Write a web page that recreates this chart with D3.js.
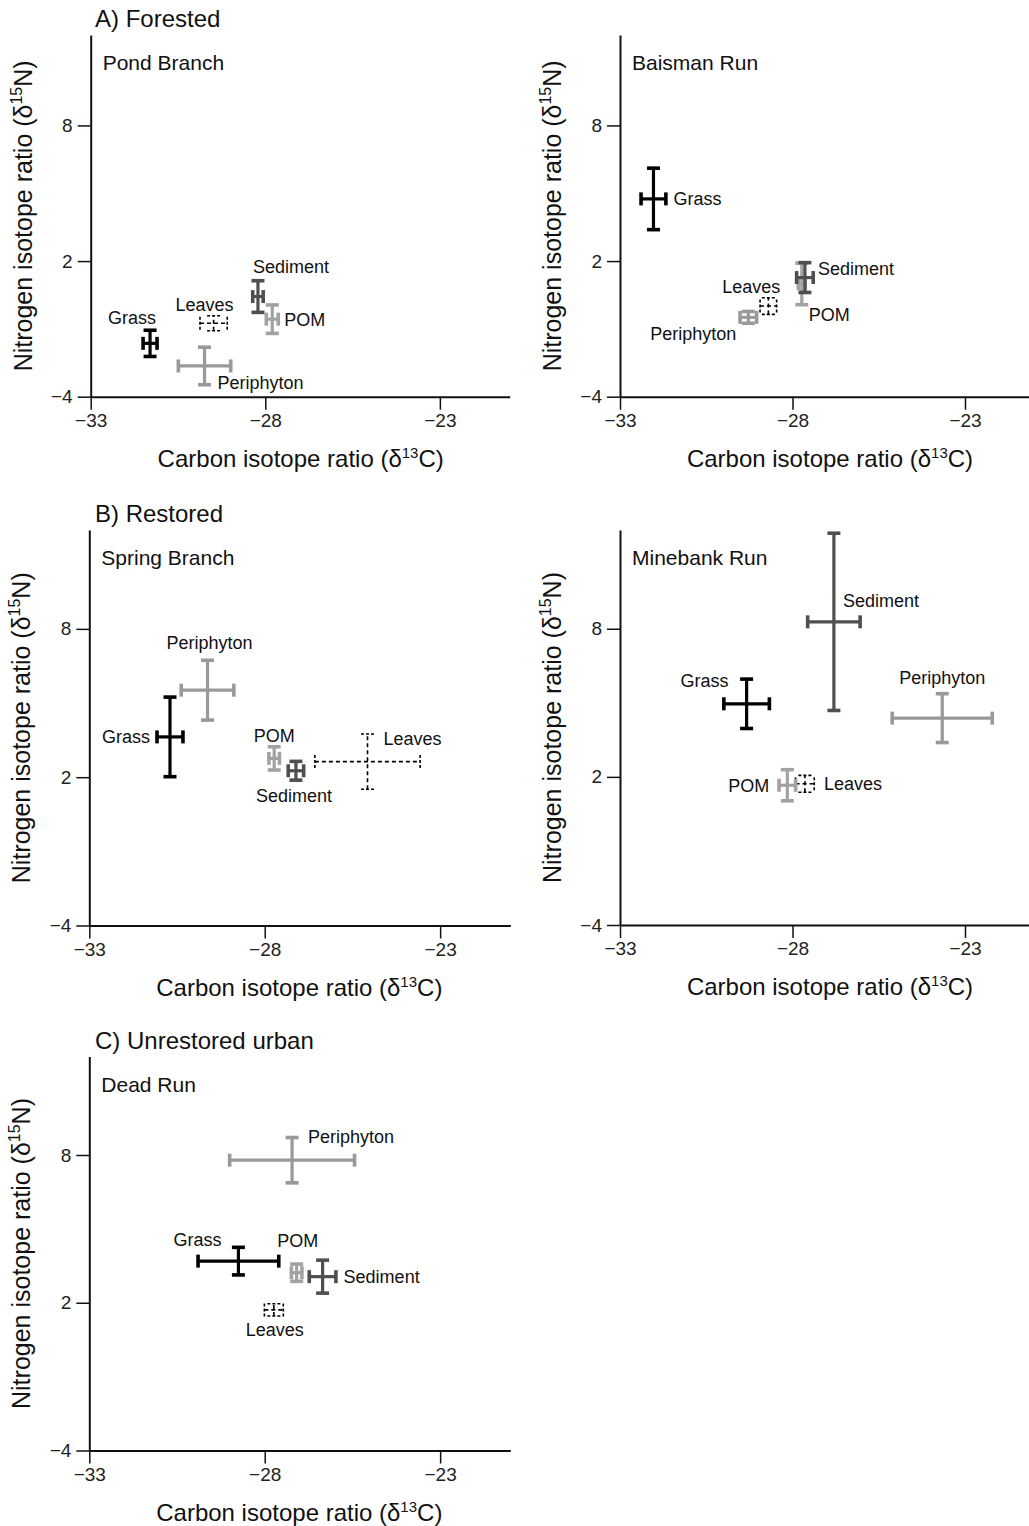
<!DOCTYPE html>
<html>
<head>
<meta charset="utf-8">
<script src="https://cdn.jsdelivr.net/npm/d3@7"></script>
<style>
  body { margin: 0; background: #fff; }
  text { font-family: "Liberation Sans", Arial, Helvetica, sans-serif; }
</style>
</head>
<body>
<script>
// sources plotted in every panel, drawn in this order
const sources = ["Grass", "Leaves", "Periphyton", "POM", "Sediment"];
const sites = ["Pond Branch", "Baisman Run", "Spring Branch", "Minebank Run", "Dead Run"];
const groupTitles = ["A) Forested", "", "B) Restored", "", "C) Unrestored urban"];
const xTicks = [-33, -28, -23];
const yTicks = [-4, 2, 8];

// rows: [mean d13C, +/- d13C, mean d15N, +/- d15N], same order as sources
const pondBranch = [
  [-31.30, 0.20, -1.64, 0.58],
  [-29.48, 0.39, -0.75, 0.33],
  [-29.74, 0.75, -2.64, 0.83],
  [-27.80, 0.17, -0.57, 0.63],
  [-28.21, 0.15, 0.43, 0.70]
];
const baismanRun = [
  [-32.03, 0.36, 4.75, 1.36],
  [-28.70, 0.24, 0.01, 0.37],
  [-29.28, 0.24, -0.49, 0.26],
  [-27.73, 0.10, 0.99, 0.92],
  [-27.64, 0.24, 1.27, 0.66]
];
const springBranch = [
  [-30.70, 0.37, 3.63, 1.61],
  [-25.07, 1.50, 2.63, 1.12],
  [-29.63, 0.75, 5.52, 1.21],
  [-27.73, 0.15, 2.76, 0.47],
  [-27.11, 0.22, 2.26, 0.38]
];
const minebankRun = [
  [-29.33, 0.66, 4.96, 1.00],
  [-27.64, 0.27, 1.72, 0.34],
  [-23.66, 1.45, 4.38, 0.99],
  [-28.15, 0.24, 1.66, 0.63],
  [-26.80, 0.76, 8.28, 3.59]
];
const deadRun = [
  [-28.75, 1.15, 3.69, 0.56],
  [-27.74, 0.27, 1.71, 0.25],
  [-27.22, 1.78, 7.79, 0.92],
  [-27.09, 0.15, 3.22, 0.35],
  [-26.35, 0.38, 3.06, 0.67]
];
const siteData = [pondBranch, baismanRun, springBranch, minebankRun, deadRun];

// label placement: [dx, dy, anchor] from the bar centre, in px
const labelSpots = [
  [[-18, -26, "middle"], [-9, -19, "middle"], [13, 17, "start"], [12, 1, "start"], [33, -30, "middle"]],
  [[20, 0, "start"], [-17, -19, "middle"], [-55, 16, "middle"], [7, 31, "start"], [13, -9, "start"]],
  [[-20, 0, "end"], [16, -23, "start"], [2, -47, "middle"], [0, -23, "middle"], [-2, 25, "middle"]],
  [[-42, -23, "middle"], [19, 0, "start"], [0, -40, "middle"], [-18, 0, "end"], [9, -21, "start"]],
  [[-41, -21, "middle"], [1, 20, "middle"], [16, -23, "start"], [1, -32, "middle"], [21, 0, "start"]]
];

const colors = {Grass: "#000", Leaves: "#000", Periphyton: "#999", POM: "#a2a2a2", Sediment: "#4f4f4f"};

// panel frames (plot area only)
const frames = [
  {x: 90.7, y: 35, w: 419, h: 361.7},
  {x: 620, y: 35, w: 414, h: 361.7},
  {x: 89.3, y: 530, w: 421, h: 395.5},
  {x: 620, y: 530, w: 414, h: 395},
  {x: 89.3, y: 1056.5, w: 421, h: 394}
];

const svg = d3.select("body").append("svg")
  .attr("width", 1029).attr("height", 1526);

sites.forEach((site, i) => {
  const f = frames[i];
  const x = d3.scaleLinear().domain([-33, -21]).range([f.x, f.x + f.w]);
  const y = d3.scaleLinear().domain([-4, 12]).range([f.y + f.h, f.y]);
  const g = svg.append("g");

  // axes
  const xa = g.append("g").attr("transform", `translate(0,${f.y + f.h})`)
    .call(d3.axisBottom(x).tickValues(xTicks).tickSize(13).tickSizeOuter(0).tickPadding(4).tickFormat(d3.format("d")));
  const ya = g.append("g").attr("transform", `translate(${f.x},0)`)
    .call(d3.axisLeft(y).tickValues(yTicks).tickSize(13).tickSizeOuter(0).tickPadding(5).tickFormat(d3.format("d")));
  [xa, ya].forEach(a => {
    a.select(".domain").attr("stroke", "#111").attr("stroke-width", 2);
    a.selectAll(".tick line").attr("stroke", "#111").attr("stroke-width", 1.5);
    a.selectAll(".tick text").attr("font-size", 19).attr("fill", "#222");
  });

  // axis titles
  const xt = g.append("text").attr("x", f.x + 210).attr("y", f.y + f.h + 70)
    .attr("text-anchor", "middle").attr("font-size", 24).attr("fill", "#111");
  xt.append("tspan").text("Carbon isotope ratio (\u03b4");
  xt.append("tspan").attr("dy", -9).attr("font-size", 15).text("13");
  xt.append("tspan").attr("dy", 9).text("C)");

  const yx = f.x - 59, yy = f.y + f.h / 2;
  const yt = g.append("text").attr("transform", `translate(${yx},${yy}) rotate(-90)`)
    .attr("text-anchor", "middle").attr("font-size", 25).attr("fill", "#111");
  yt.append("tspan").text("Nitrogen isotope ratio (\u03b4");
  yt.append("tspan").attr("dy", -10).attr("font-size", 16).text("15");
  yt.append("tspan").attr("dy", 10).text("N)");

  // titles
  if (groupTitles[i]) {
    g.append("text").attr("x", 95).attr("y", f.y - 8)
      .attr("font-size", 24).attr("fill", "#111").text(groupTitles[i]);
  }
  g.append("text").attr("x", f.x + 12).attr("y", f.y + 35)
    .attr("font-size", 21).attr("fill", "#111").text(site);

  // error crosses
  const rows = siteData[i];
  const cap = 6.5;
  sources.forEach((src, j) => {
    const [c, ce, n, ne] = rows[j];
    const dashed = src === "Leaves";
    const sw = dashed ? 1.6 : 3.2;
    const col = colors[src];
    const cx = x(c), cy = y(n);
    const x1 = x(c - ce), x2 = x(c + ce), y1 = y(n - ne), y2 = y(n + ne);
    const bar = g.append("g").attr("stroke", col).attr("fill", "none");
    const segs = [
      [x1, cy, x2, cy], [cx, y1, cx, y2]
    ];
    const caps = [
      [x1, cy - cap, x1, cy + cap], [x2, cy - cap, x2, cy + cap],
      [cx - cap, y1, cx + cap, y1], [cx - cap, y2, cx + cap, y2]
    ];
    bar.selectAll("line.seg").data(segs).join("line").attr("class", "seg")
      .attr("x1", d => d[0]).attr("y1", d => d[1]).attr("x2", d => d[2]).attr("y2", d => d[3])
      .attr("stroke-width", sw).attr("stroke-dasharray", dashed ? "4,3" : null);
    bar.selectAll("line.cap").data(caps).join("line").attr("class", "cap")
      .attr("x1", d => d[0]).attr("y1", d => d[1]).attr("x2", d => d[2]).attr("y2", d => d[3])
      .attr("stroke-width", dashed ? 1.6 : 3.6).attr("stroke-dasharray", dashed ? "3,2" : null);

    const [dx, dy, anchor] = labelSpots[i][j];
    g.append("text").attr("x", cx + dx).attr("y", cy + dy).attr("dy", "0.35em")
      .attr("text-anchor", anchor).attr("font-size", 18).attr("fill", "#111").text(src);
  });
});
</script>
</body>
</html>
